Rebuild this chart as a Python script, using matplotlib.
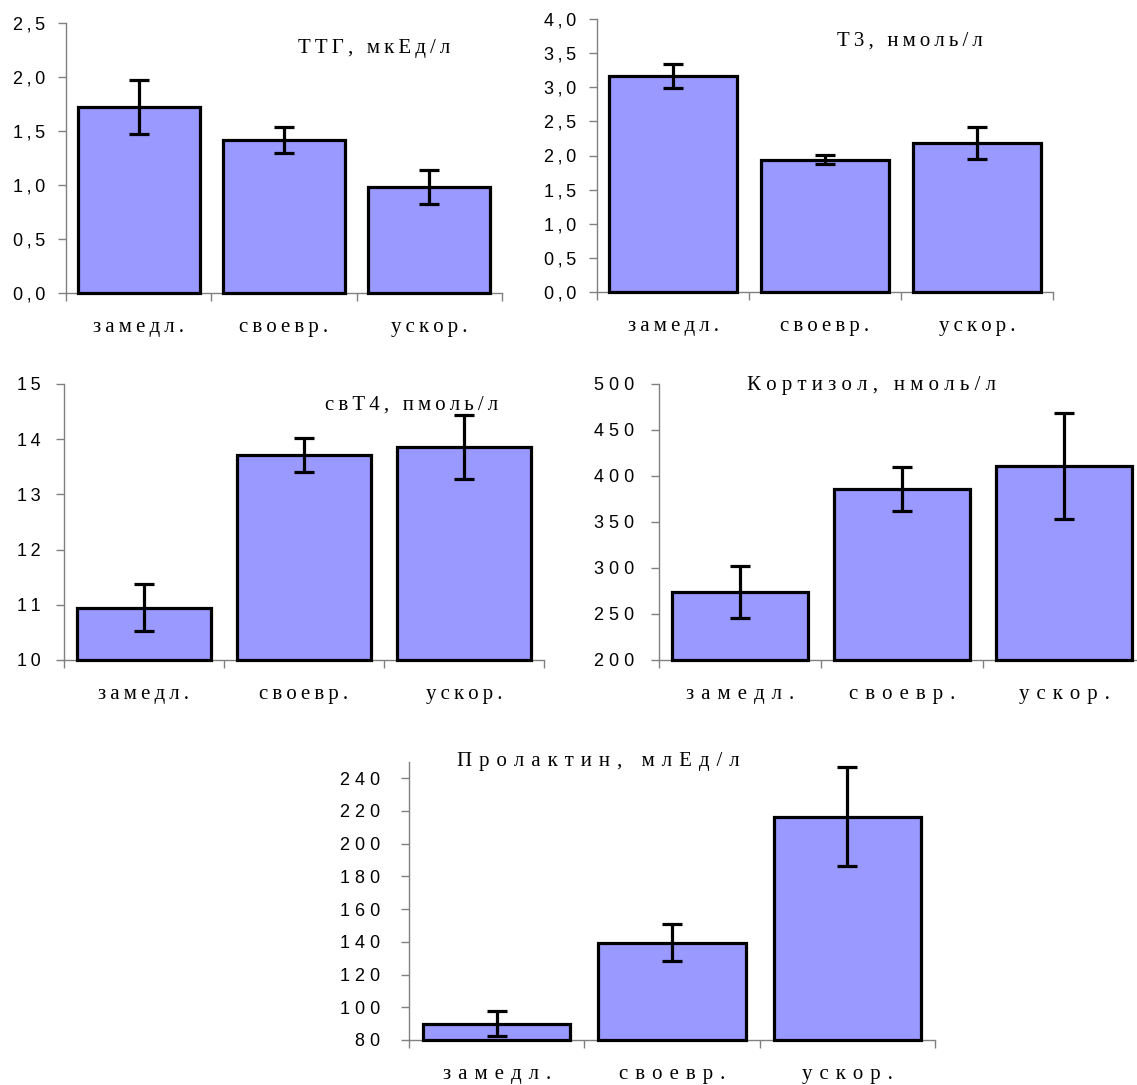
import numpy as np
import matplotlib.pyplot as plt

cats = ['замедл.', 'своевр.', 'ускор.']

ttg = [1.72, 1.42, 0.98]
ttg_err = [0.25, 0.12, 0.16]
t3 = [3.16, 1.94, 2.18]
t3_err = [0.18, 0.07, 0.235]
ft4 = [10.95, 13.71, 13.86]
ft4_err = [0.42, 0.31, 0.58]
cort = [274, 386, 410.5]
cort_err = [28.5, 24, 57.5]
prl = [90, 139.5, 216.5]
prl_err = [7.5, 11.5, 30.5]

ttg_ticks = [0.0, 0.5, 1.0, 1.5, 2.0, 2.5]
t3_ticks = [0.0, 0.5, 1.0, 1.5, 2.0, 2.5, 3.0, 3.5, 4.0]
ft4_ticks = [10, 11, 12, 13, 14, 15]
cort_ticks = [200, 250, 300, 350, 400, 450, 500]
prl_ticks = [80, 100, 120, 140, 160, 180, 200, 220, 240]

SANS = ['Liberation Sans', 'DejaVu Sans']
SERIF = ['Liberation Serif', 'DejaVu Serif']
THIN = '\u2009'
WIDE = ' \u200a'

def spaced(s, sep):
    return sep.join(s)

W, H = 1137, 1085
fig = plt.figure(figsize=(W / 100, H / 100), dpi=100)

def panel(px, vals, errs, ticks, ylim, labels, title, tpos, tsep, lsep, ypad):
    # px = (left, right, top, bottom) in pixels
    l, r, t, b = px
    ax = fig.add_axes([l / W, (H - b) / H, (r - l) / W, (b - t) / H])
    x = np.arange(len(cats))
    base = ylim[0]
    ax.bar(x, np.array(vals) - base, bottom=base, width=0.84, color='#9999ff',
           edgecolor='black', linewidth=2.3, clip_on=False, zorder=3)
    ax.errorbar(x, vals, yerr=errs, fmt='none', ecolor='black', elinewidth=2.3,
                capsize=7, capthick=2.3, zorder=4, clip_on=False)
    ax.set_xlim(-0.5, 2.5)
    ax.set_ylim(*ylim)
    for s in ['top', 'right']:
        ax.spines[s].set_visible(False)
    for s in ['left', 'bottom']:
        ax.spines[s].set_color('#808080')
        ax.spines[s].set_linewidth(1)
    ax.set_yticks(ticks)
    ax.set_yticklabels([spaced(lb, lsep) for lb in labels], family=SANS, fontsize=13)
    ax.tick_params(axis='y', length=6, width=1, color='#808080', pad=ypad)
    ax.set_xticks(x)
    ax.set_xticklabels([spaced(c, tsep[1]) for c in cats], family=SERIF, fontsize=15)
    ax.tick_params(axis='x', which='major', length=0, pad=18)
    ax.set_xticks([-0.5, 0.5, 1.5, 2.5], minor=True)
    ax.tick_params(axis='x', which='minor', length=6, width=1, color='#808080')
    ax.text(tpos[0], tpos[1], spaced(title, tsep[0]), transform=ax.transAxes,
            ha='center', va='center', family=SERIF, fontsize=15)
    return ax

def fmt1(v):
    return [f'{t:.1f}'.replace('.', ',') for t in v]

panel((66, 502, 23, 293), ttg, ttg_err, ttg_ticks, (0, 2.5), fmt1(ttg_ticks),
      'ТТГ, мкЕд/л', (0.706, 0.905), (THIN, THIN), THIN, 9)
panel((597, 1053, 18.7, 292.3), t3, t3_err, t3_ticks, (0, 4), fmt1(t3_ticks),
      'Т3, нмоль/л', (0.686, 0.92), (THIN, THIN), THIN, 9)
panel((64, 544, 384, 660), ft4, ft4_err, ft4_ticks, (10, 15), [str(t) for t in ft4_ticks],
      'свТ4, пмоль/л', (0.725, 0.922), (THIN, THIN), THIN, 11)
panel((659, 1145, 384, 660), cort, cort_err, cort_ticks, (200, 500), [str(t) for t in cort_ticks],
      'Кортизол, нмоль/л', (0.4375, 0.995), (' ', WIDE), ' ', 12)
panel((409, 935, 761.7, 1040), prl, prl_err, prl_ticks, (80, 250), [str(t) for t in prl_ticks],
      'Пролактин, млЕд/л', (0.36, 1.0), (WIDE, WIDE), ' ', 15)

fig.savefig('out.png', dpi=100)
